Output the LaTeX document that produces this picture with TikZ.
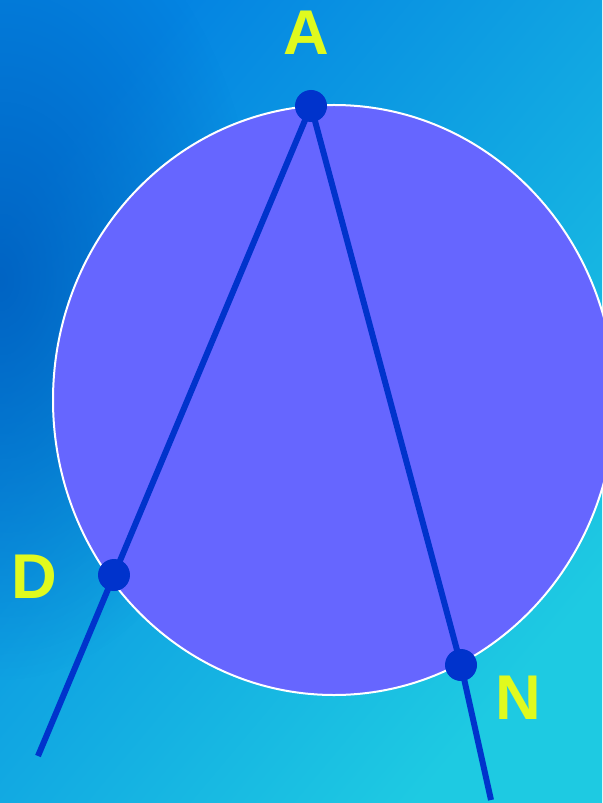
\documentclass[tikz,border=0pt]{standalone}
\usepackage{fontspec}
\setmainfont{Liberation Sans}
\usetikzlibrary{fadings}
\definecolor{bgdark}{HTML}{0060C0}
\definecolor{bgleft}{HTML}{0484E2}
\definecolor{bgright}{HTML}{1ECAE2}
\definecolor{disc}{HTML}{6666FF}
\definecolor{chord}{HTML}{0033CC}
\definecolor{letter}{HTML}{E0FA1E}
\tikzfading[name=softspot, inner color=transparent!0, outer color=transparent!100]
\tikzset{
    chordline/.style={chord, line width=0.12cm, line cap=butt},
    dot/.style={circle, fill=chord, inner sep=0pt, minimum size=0.64cm},
    lbl/.style={text=letter, font=\fontsize{36}{40}\selectfont\bfseries}
}
\begin{document}
\begin{tikzpicture}[x=0.02cm, y=-0.02cm]
    % Nền
    \useasboundingbox (0,0) rectangle (602,803);
    \begin{scope}
        \clip (0,0) rectangle (602,803);
        \shade[left color=bgleft, right color=bgright, shading angle=50] (0,0) rectangle (602,803);
        \fill[bgdark, path fading=softspot, fill opacity=0.9]
            (0,280) ellipse [x radius=260, y radius=400];
    \end{scope}

    % Đường tròn
    \fill[disc, draw=white, line width=0.04cm] (334,400) ellipse [x radius=281, y radius=295];

    % Các điểm
    \coordinate (a) at (311,106);
    \coordinate (d) at (114,575);
    \coordinate (n) at (461,665);
    \coordinate (dEnd) at (38,756);
    \coordinate (nEnd) at (491,800);

    % Hai cát tuyến
    \draw[chordline] (dEnd) -- (d) -- (a) -- (n) -- (nEnd);

    \node[dot] (A) at (a) {};
    \node[dot] (D) at (d) {};
    \node[dot] (N) at (n) {};

    \node[lbl] at (306,33) {A};
    \node[lbl] at (34,577) {D};
    \node[lbl] at (518,698) {N};
\end{tikzpicture}
\end{document}
